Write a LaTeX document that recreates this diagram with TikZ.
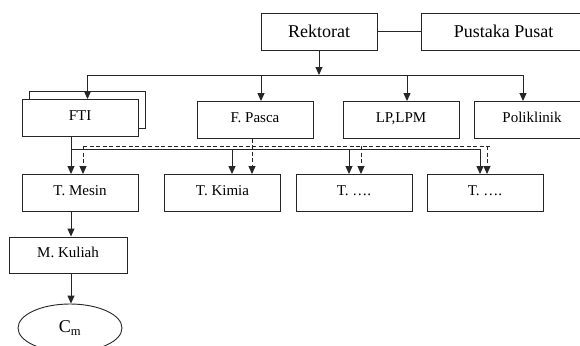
\documentclass[tikz,border=0pt]{standalone}
\usepackage{fontspec}
\setmainfont{Liberation Serif}
\usepackage{tikz}
\usetikzlibrary{arrows.meta, positioning, calc, shapes.geometric}

\begin{document}
\begin{tikzpicture}[x=1pt, y=-1pt,
        tbox/.style={draw=black!85, line width=0.9pt, fill=white, inner sep=0pt, align=center},
        headbox/.style={tbox, minimum width=116pt, minimum height=37pt, font=\fontsize{18}{21}\selectfont},
        unitbox/.style={tbox, minimum width=116pt, minimum height=37pt, font=\fontsize{15}{18}\selectfont, text height=0.7em, text depth=0.3em},
        line/.style={draw=black!85, line width=0.9pt},
        dline/.style={line, dash pattern=on 4pt off 2.5pt},
        arr/.style={line, -{Triangle[length=8pt, width=7pt]}},
        darr/.style={dline, -{Triangle[length=8pt, width=7pt]}}
    ]
    \useasboundingbox (0,0) rectangle (580,345);

    % Top level
    \node[headbox] (rek) at (319,31.5) {Rektorat};
    \node[headbox, minimum width=165pt] (pus) at (503.5,31.5) {Pustaka Pusat};
    \draw[line] (rek) -- (pus);

    % Faculties and units
    \node[unitbox] (ftiback) at (87.5,109.5) {};
    \node[unitbox] (fti) at (80,118) {FTI};
    \node[unitbox] (pasca) at (255,120) {F. Pasca};
    \node[unitbox] (lp) at (401,120) {LP,LPM};
    \node[unitbox] (poli) at (532,120) {Poliklinik};

    % Rektorat down to the faculties
    \coordinate (bus) at (319,75);
    \draw[arr] (rek) -- (bus);
    \draw[line] (ftiback.north |- bus) -- ([xshift=-9pt]poli.north |- bus);
    \draw[arr] (ftiback.north |- bus) -- (ftiback.north |- fti.north);
    \foreach \n/\dx in {pasca/6, lp/6, poli/-9}
        \draw[arr] ([xshift=\dx pt]\n.north |- bus) -- ([xshift=\dx pt]\n.north);

    % Departments
    \node[unitbox] (mesin) at (80,193) {T. Mesin};
    \node[unitbox] (kimia) at (222.5,193) {T. Kimia};
    \node[unitbox] (tc) at (354,193) {T. ….};
    \node[unitbox] (td) at (485,193) {T. ….};

    % FTI to departments (solid)
    \coordinate (sbus) at (0,149);
    \draw[line] ([xshift=-9pt]fti.south) -- ([xshift=-9pt]fti.south |- sbus) -- ([xshift=-5pt]td.north |- sbus);
    \foreach \n/\dx in {mesin/-9, kimia/9.5, tc/-5, td/-5}
        \draw[arr] ([xshift=\dx pt]\n.north |- sbus) -- ([xshift=\dx pt]\n.north);

    % F. Pasca to departments (dashed)
    \coordinate (dbus) at (0,146);
    \draw[dline] ([xshift=3pt]mesin.north |- dbus) -- ([xshift=7pt]td.north |- dbus);
    \draw[darr] ([xshift=-3pt]pasca.south) -- ([xshift=-3pt]pasca.south |- kimia.north);
    \foreach \n/\dx in {mesin/3, tc/7, td/2}
        \draw[darr] ([xshift=\dx pt]\n.north |- dbus) -- ([xshift=\dx pt]\n.north);

    % Course and C_m
    \node[unitbox, minimum width=118pt, minimum height=36pt] (kuliah) at (68,255) {M. Kuliah};
    \node[tbox, ellipse, minimum width=104pt, minimum height=48pt, font=\fontsize{18}{21}\selectfont] (cm) at (70,328) {C\textsubscript{m}};
    \draw[arr] ([xshift=-9pt]mesin.south) -- ([xshift=-9pt]mesin.south |- kuliah.north);
    \draw[arr] ([xshift=3pt]kuliah.south) -- ([xshift=3pt]kuliah.south |- cm.north);

\end{tikzpicture}
\end{document}
